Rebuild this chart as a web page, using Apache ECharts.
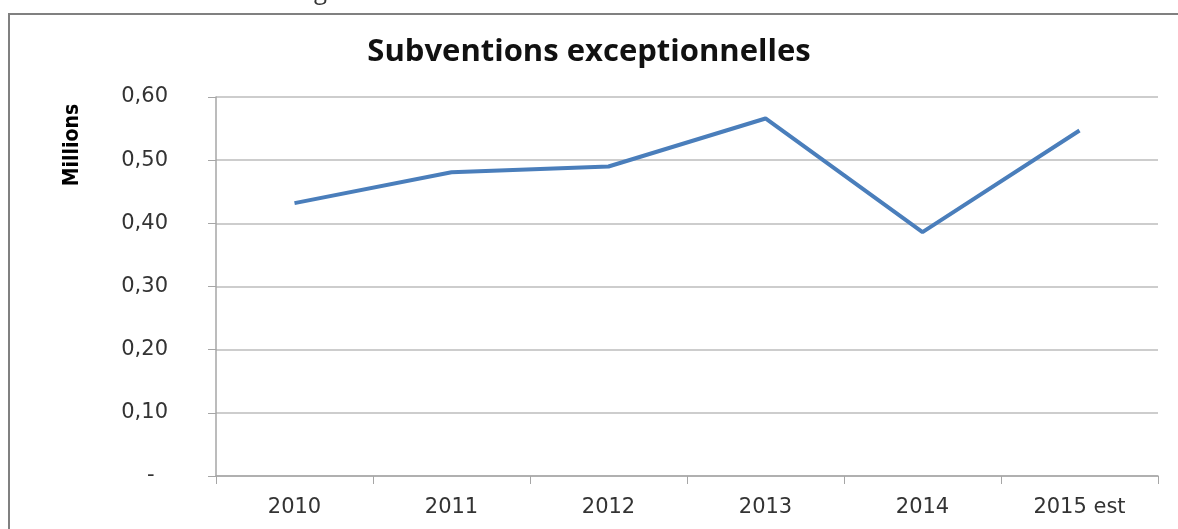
<!DOCTYPE html>
<html>
<head>
<meta charset="utf-8">
<script src="https://cdn.jsdelivr.net/npm/echarts@6/dist/echarts.min.js"></script>
<style>
  html, body { margin: 0; padding: 0; background: #fff; }
  #chart { width: 1178px; height: 529px; }
</style>
</head>
<body>
<div id="chart"></div>
<script>
const years = ['2010', '2011', '2012', '2013', '2014', '2015 est'];
const subventions = [0.432, 0.481, 0.490, 0.566, 0.386, 0.547];
const yTicks = [0, 0.1, 0.2, 0.3, 0.4, 0.5, 0.6];

const chartDom = document.getElementById('chart');
const myChart = echarts.init(chartDom);

// 0,60 style labels, zero shown as a dash (padded like the spreadsheet format)
const fmt = function (v) {
  if (Math.abs(v) < 1e-9) return '-  ';
  return v.toFixed(2).replace('.', ',');
};

const option = {
  animation: false,
  textStyle: {
    fontFamily: 'DejaVu Sans'
  },
  title: {
    text: 'Subventions exceptionnelles',
    left: 'center',
    top: 32,
    textStyle: {
      fontFamily: 'Open Sans',
      fontWeight: 'bold',
      fontSize: 31,
      color: '#111'
    }
  },
  graphic: [
    {
      type: 'rect',
      shape: { x: 9, y: 14, width: 1200, height: 540 },
      style: { fill: 'none', stroke: '#808080', lineWidth: 2 }
    },
    {
      type: 'text',
      left: 314,
      top: -20,
      style: { text: 'g', fontSize: 24, fontFamily: 'Open Sans', fill: '#333' }
    },
    {
      type: 'text',
      x: 73,
      y: 145,
      rotation: Math.PI / 2,
      style: {
        text: 'Millions',
        fontFamily: 'DejaVu Sans Condensed',
        fontWeight: 'bold',
        fontSize: 21,
        fill: '#000',
        align: 'center',
        verticalAlign: 'middle'
      }
    }
  ],
  grid: {
    left: 216,
    right: 20,
    top: 97,
    bottom: 53
  },
  xAxis: {
    type: 'category',
    data: years,
    boundaryGap: true,
    axisLine: { lineStyle: { color: '#a6a6a6', width: 1.5 } },
    axisTick: { show: true, length: 8, lineStyle: { color: '#a6a6a6' } },
    axisLabel: {
      color: '#333',
      fontSize: 21,
      margin: 21
    }
  },
  yAxis: {
    type: 'value',
    min: yTicks[0],
    max: yTicks[yTicks.length - 1],
    interval: 0.1,
    axisLine: { show: true, lineStyle: { color: '#a6a6a6', width: 1.5 } },
    axisTick: { show: true, length: 8, lineStyle: { color: '#a6a6a6' } },
    splitLine: { lineStyle: { color: '#bdbdbd', width: 1.5 } },
    axisLabel: {
      color: '#333',
      fontSize: 21,
      margin: 48,
      formatter: fmt
    }
  },
  series: [
    {
      name: 'Subventions exceptionnelles',
      type: 'line',
      data: subventions,
      showSymbol: false,
      symbol: 'none',
      lineStyle: { color: '#4a7ebb', width: 4 }
    }
  ]
};

myChart.setOption(option);
</script>
</body>
</html>
